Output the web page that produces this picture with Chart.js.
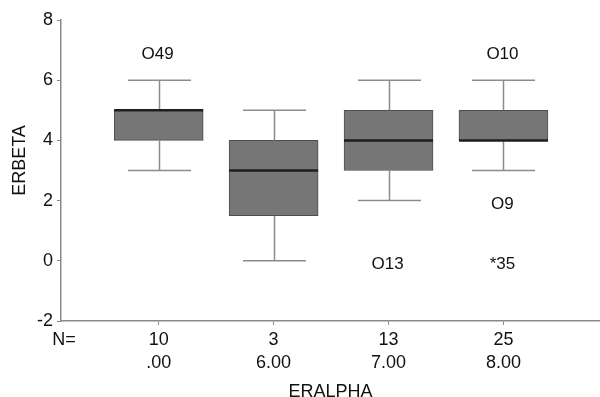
<!DOCTYPE html>
<html><head><meta charset="utf-8">
<script src="https://cdn.jsdelivr.net/npm/chart.js@4.4.1/dist/chart.umd.min.js"></script>
<style>html,body{margin:0;padding:0;background:#fff;}#wrap{width:600px;height:397px;}</style>
</head><body><div id="wrap"><canvas id="c" width="600" height="397"></canvas></div>
<script>
// ---- data ----
const categories = ['.00', '6.00', '7.00', '8.00'];
const counts = [10, 3, 13, 25];
const whiskerLow = [3, 0, 2, 3];
const q1 = [4, 1.5, 3, 4];
const medians = [5, 3, 4, 4];
const q3 = [5, 4, 5, 5];
const whiskerHigh = [6, 5, 6, 6];
const outlierGroup = [0, 2, 3, 3, 3];
const outlierValue = [7, 0, 7, 2, 0];
const outlierLabel = ['O49', 'O13', 'O10', 'O9', '*35'];
const yTicks = [-2, 0, 2, 4, 6, 8];
const xTitle = 'ERALPHA';
const yTitle = 'ERBETA';

const FONT = "'Liberation Sans', Arial, sans-serif";
const AXIS = '#8a8a8a';

const boxData = categories.map((c, i) => ({ x: i + 1, y: [q1[i], q3[i]] }));

const boxPlugin = {
  id: 'boxExtras',
  afterDatasetsDraw(chart) {
    const { ctx, scales: { x, y } } = chart;
    ctx.save();
    // whiskers
    ctx.strokeStyle = '#8c8c8c';
    ctx.lineWidth = 1.5;
    const cap = 31.5;
    for (let i = 0; i < categories.length; i++) {
      const px = Math.round(x.getPixelForValue(i + 1)) + 0.5;
      const yl = y.getPixelForValue(whiskerLow[i]);
      const yh = y.getPixelForValue(whiskerHigh[i]);
      const y1 = y.getPixelForValue(q1[i]);
      const y3 = y.getPixelForValue(q3[i]);
      ctx.beginPath();
      ctx.moveTo(px, yh); ctx.lineTo(px, y3);
      ctx.moveTo(px, y1); ctx.lineTo(px, yl);
      ctx.moveTo(px - cap, yh); ctx.lineTo(px + cap, yh);
      ctx.moveTo(px - cap, yl); ctx.lineTo(px + cap, yl);
      ctx.stroke();
    }
    // medians
    ctx.strokeStyle = '#1e1e1e';
    ctx.lineWidth = 2.5;
    for (let i = 0; i < categories.length; i++) {
      const px = x.getPixelForValue(i + 1);
      const ym = y.getPixelForValue(medians[i]);
      ctx.beginPath();
      ctx.moveTo(px - 44.5, ym); ctx.lineTo(px + 44.5, ym);
      ctx.stroke();
    }
    // outliers
    ctx.fillStyle = '#111';
    ctx.font = '17px ' + FONT;
    ctx.textAlign = 'center';
    ctx.textBaseline = 'middle';
    for (let k = 0; k < outlierValue.length; k++) {
      const px = x.getPixelForValue(outlierGroup[k] + 1);
      const py = y.getPixelForValue(outlierValue[k]);
      ctx.fillText(outlierLabel[k], px - 1, py + 4);
    }
    // N= label
    ctx.font = '18px ' + FONT;
    ctx.fillText('N=', 64, y.bottom + 19);
    ctx.restore();
  }
};

new Chart(document.getElementById('c'), {
  type: 'bar',
  data: {
    datasets: [{
      data: boxData,
      backgroundColor: '#767676',
      borderColor: '#4d4d4d',
      borderWidth: 1,
      borderSkipped: false,
      barThickness: 89
    }]
  },
  options: {
    responsive: false,
    animation: false,
    devicePixelRatio: 1,
    layout: { padding: { top: 20, right: 0, left: 0, bottom: 0 } },
    plugins: { legend: { display: false }, tooltip: { enabled: false } },
    scales: {
      x: {
        type: 'linear',
        min: 0.15,
        max: 4.84,
        offset: false,
        afterFit(s) { s.height = 76; },
        afterBuildTicks(s) { s.ticks = categories.map((c, i) => ({ value: i + 1 })); },
        grid: { display: true, offset: false, drawOnChartArea: false, drawTicks: true, tickLength: 4, color: AXIS },
        border: { display: true, color: AXIS, width: 1.5 },
        ticks: {
          padding: 3.5,
          maxRotation: 0,
          autoSkip: false,
          color: '#111',
          font: { family: FONT, size: 18, lineHeight: 1.28 },
          callback(v) { const i = Math.round(v) - 1; return [String(counts[i]), categories[i]]; }
        },
        title: {
          display: true, text: xTitle, color: '#111',
          font: { family: FONT, size: 18, lineHeight: 0.6 },
          padding: { top: 0, bottom: 0 }
        }
      },
      y: {
        min: -2,
        max: 8,
        afterFit(s) { s.width = 61; },
        afterBuildTicks(s) { s.ticks = yTicks.map(v => ({ value: v })); },
        grid: { display: true, drawOnChartArea: false, drawTicks: true, tickLength: 4, color: AXIS },
        border: { display: true, color: AXIS, width: 1.5 },
        ticks: {
          padding: 4,
          color: '#111',
          font: { family: FONT, size: 18 }
        },
        title: {
          display: true, text: '    ' + yTitle, color: '#111',
          font: { family: FONT, size: 18, lineHeight: 1.2 },
          padding: { top: 9, bottom: 0 }
        }
      }
    }
  },
  plugins: [boxPlugin]
});
</script>
</body></html>
